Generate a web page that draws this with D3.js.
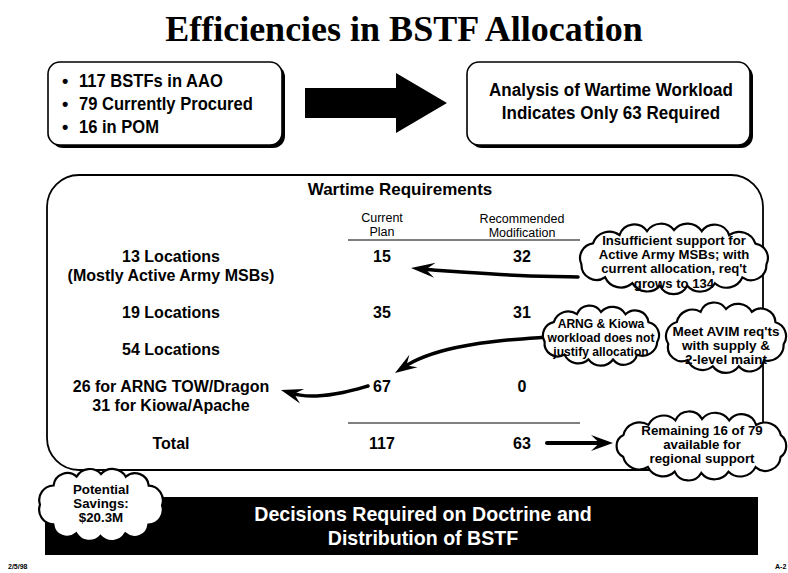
<!DOCTYPE html>
<html><head><meta charset="utf-8">
<script src="https://cdn.jsdelivr.net/npm/d3@7"></script>
<style>body{margin:0;background:#fff}svg{display:block}</style>
</head><body>
<svg id="c" width="788" height="573"></svg>
<script>
// ---- content / data ----
const titleText = "Efficiencies in BSTF Allocation";
const bullets = ["117 BSTFs in AAO", "79 Currently Procured", "16 in POM"];
const analysisLines = ["Analysis of Wartime Workload", "Indicates Only 63 Required"];
const tableTitle = "Wartime Requirements";
const columnKeys = ["current", "recommended"];
const columnHeaders = [["Current", "Plan"], ["Recommended", "Modification"]];
const rowLabels = [["13 Locations", "(Mostly Active Army MSBs)"], ["19 Locations"], ["54 Locations"], ["26 for ARNG TOW/Dragon", "31 for Kiowa/Apache"], ["Total"]];
const currentPlan = [15, 35, null, 67, 117];
const recommended = [32, 31, null, 0, 63];
const noteMSB = ["Insufficient support for", "Active Army MSBs; with", "current allocation, req't", "grows to 134"];
const noteARNG = ["ARNG & Kiowa", "workload does not", "justify allocation"];
const noteAVIM = ["Meet AVIM req'ts", "with supply &", "2-level maint"];
const noteRemain = ["Remaining 16 of 79", "available for", "regional support"];
const noteSavings = ["Potential", "Savings:", "$20.3M"];
const bannerLines = ["Decisions Required on Doctrine and", "Distribution of BSTF"];
const footerLeft = "2/5/98";
const footerRight = "A-2";

// ---- layout ----
const svg = d3.select("#c");
const SANS = "'Liberation Sans', Arial, Helvetica, sans-serif";
const SERIF = "'Liberation Serif', 'Times New Roman', serif";

const rowY = d3.scaleOrdinal().domain(d3.range(rowLabels.length)).range([256, 312, 349, 386, 443]);
const colX = d3.scaleOrdinal().domain(["label", ...columnKeys]).range([171, 382, 522]);

// condensed text helper
function ctext(g, x, y, t, sx) {
  return g.append("text").attr("transform", `translate(${x},${y}) scale(${sx},1)`).text(t);
}

// title
svg.append("text").attr("x", 404).attr("y", 41).attr("text-anchor", "middle")
  .attr("font-family", SERIF).attr("font-weight", "bold").attr("font-size", 36)
  .text(titleText);

function shadowBox(x, y, w, h) {
  svg.append("rect").attr("x", x + 3).attr("y", y + 3).attr("width", w).attr("height", h)
    .attr("rx", 12).attr("fill", "#000");
  svg.append("rect").attr("x", x).attr("y", y).attr("width", w).attr("height", h)
    .attr("rx", 12).attr("fill", "#fff").attr("stroke", "#000").attr("stroke-width", 1.6);
}
// left box
shadowBox(48, 62, 234, 83);
const bl = svg.append("g").attr("font-family", SANS).attr("font-weight", "bold").attr("font-size", 18);
bullets.forEach((b, i) => {
  bl.append("text").attr("x", 62).attr("y", 87 + i * 23).text("\u2022");
  ctext(bl, 79, 87 + i * 23, b, 0.92);
});

// block arrow
svg.append("path").attr("d", "M305,88 L396,88 L396,73 L447,103 L396,133 L396,118 L305,118 Z").attr("fill", "#000");

// right box
shadowBox(467, 62, 283, 83);
const ab = svg.append("g").attr("font-family", SANS).attr("font-weight", "bold").attr("font-size", 18.5).attr("text-anchor", "middle");
analysisLines.forEach((t, i) => ctext(ab, 611, 96 + i * 23, t, 0.92));

// big box
svg.append("rect").attr("x", 47).attr("y", 175).attr("width", 716).attr("height", 295)
  .attr("rx", 32).attr("fill", "#fff").attr("stroke", "#000").attr("stroke-width", 1.8);

svg.append("text").attr("x", 400).attr("y", 195).attr("text-anchor", "middle")
  .attr("font-family", SANS).attr("font-weight", "bold").attr("font-size", 17).text(tableTitle);

// column headers
columnKeys.forEach((k, ci) => {
  columnHeaders[ci].forEach((t, li) => {
    svg.append("text").attr("x", colX(k)).attr("y", 222 + li * 13.5 + (ci === 1 ? 1 : 0))
      .attr("text-anchor", "middle").attr("font-family", SANS).attr("font-size", 12.5).text(t);
  });
});
// rules
svg.append("line").attr("x1", 348).attr("x2", 580).attr("y1", 240).attr("y2", 240).attr("stroke", "#000").attr("stroke-width", 1);
svg.append("line").attr("x1", 348).attr("x2", 580).attr("y1", 423).attr("y2", 423).attr("stroke", "#000").attr("stroke-width", 1);

// rows
const tb = svg.append("g").attr("font-family", SANS).attr("font-weight", "bold").attr("font-size", 16).attr("text-anchor", "middle");
rowLabels.forEach((lines, i) => {
  lines.forEach((t, li) => {
    tb.append("text").attr("x", colX("label")).attr("y", rowY(i) + li * 19).attr("dy", "0.35em").text(t);
  });
});
const colData = { current: currentPlan, recommended: recommended };
columnKeys.forEach(k => {
  colData[k].forEach((v, i) => {
    if (v === null) return;
    tb.append("text").attr("x", colX(k)).attr("y", rowY(i)).attr("dy", "0.35em").text(v);
  });
});

// arrows
function curvedArrow(pts, L, W, sw) {
  const n = pts.length;
  const tip = pts[n - 1], prev = pts[n - 2];
  let dx = tip[0] - prev[0], dy = tip[1] - prev[1];
  const len = Math.hypot(dx, dy); dx /= len; dy /= len;
  const nx = -dy, ny = dx;
  const notch = [tip[0] - dx * L * 0.62, tip[1] - dy * L * 0.62];
  const body = pts.slice(0, n - 1).concat([notch]);
  svg.append("path").attr("d", d3.line().curve(d3.curveBasis)(body))
    .attr("fill", "none").attr("stroke", "#000").attr("stroke-width", sw).attr("stroke-linecap", "round");
  const w1 = [tip[0] - dx * L + nx * W / 2, tip[1] - dy * L + ny * W / 2];
  const w2 = [tip[0] - dx * L - nx * W / 2, tip[1] - dy * L - ny * W / 2];
  svg.append("path").attr("d", `M${tip}L${w1}L${notch}L${w2}Z`).attr("fill", "#000");
}
curvedArrow([[578, 277], [520, 276], [460, 272], [432, 270], [411, 268]], 24, 15, 3.5);
curvedArrow([[548, 337], [490, 341], [445, 349], [415, 360], [395, 373]], 22, 15, 3.5);
curvedArrow([[368, 386], [344, 393], [314, 397], [298, 395], [281, 390]], 22, 15, 3.5);
curvedArrow([[547, 443], [580, 443], [613, 443]], 22, 16, 4);

// clouds: bumps evenly spaced along the ellipse perimeter
function cloudPath(cx, cy, rx, ry, chord) {
  const N = 720;
  const samp = d3.range(N + 1).map(i => {
    const a = -Math.PI / 2 + (i / N) * 2 * Math.PI;
    return [cx + rx * Math.cos(a), cy + ry * Math.sin(a)];
  });
  const cum = [0];
  for (let i = 1; i <= N; i++) cum.push(cum[i - 1] + Math.hypot(samp[i][0] - samp[i - 1][0], samp[i][1] - samp[i - 1][1]));
  const P = cum[N];
  const nb = Math.max(8, Math.round(P / chord));
  const pts = [];
  let j = 0;
  for (let k = 0; k < nb; k++) {
    const target = (k / nb) * P;
    while (cum[j] < target) j++;
    pts.push(samp[j]);
  }
  let d = `M${pts[0][0]},${pts[0][1]}`;
  pts.forEach((p, i) => {
    const q = pts[(i + 1) % nb];
    const ch = Math.hypot(q[0] - p[0], q[1] - p[1]);
    const r = ch * (i % 3 === 1 ? 0.56 : 0.62);
    d += `A${r},${r} 0 0 1 ${q[0]},${q[1]}`;
  });
  return d + "Z";
}
function cloud(cx, cy, rx, ry, chord, lines, fs, lh, ty, sx) {
  svg.append("path").attr("d", cloudPath(cx, cy, rx, ry, chord))
    .attr("fill", "#fff").attr("stroke", "#000").attr("stroke-width", 2.2);
  const g = svg.append("g").attr("text-anchor", "middle").attr("font-family", SANS)
    .attr("font-weight", "bold").attr("font-size", fs);
  const y0 = ty - (lines.length - 1) * lh / 2;
  lines.forEach((t, i) => ctext(g, cx, y0 + i * lh + fs * 0.35, t, sx));
}
cloud(674, 258, 95, 28, 27, noteMSB, 12.4, 14.3, 262, 1.06);
cloud(601, 336, 58, 24, 24, noteARNG, 12.1, 14, 338, 1.0);
cloud(726, 338, 59, 29, 25, noteAVIM, 12.1, 14, 346, 1.12);
cloud(702, 446, 86, 27, 27, noteRemain, 11.9, 13.8, 445, 1.12);

// banner
svg.append("rect").attr("x", 45).attr("y", 497).attr("width", 713).attr("height", 58).attr("fill", "#000");
const bg = svg.append("g").attr("text-anchor", "middle").attr("font-family", SANS).attr("font-weight", "bold")
  .attr("font-size", 20).attr("fill", "#fff");
bannerLines.forEach((t, i) => ctext(bg, 423, 521 + i * 24, t, 0.98));
cloud(101, 505, 61, 31, 25, noteSavings, 11.9, 13.8, 504, 1.12);

// footers
svg.append("text").attr("x", 8).attr("y", 569).attr("font-family", SANS).attr("font-weight", "bold").attr("font-size", 7).text(footerLeft);
svg.append("text").attr("x", 775).attr("y", 569).attr("font-family", SANS).attr("font-weight", "bold").attr("font-size", 7).text(footerRight);
</script>
</body></html>
